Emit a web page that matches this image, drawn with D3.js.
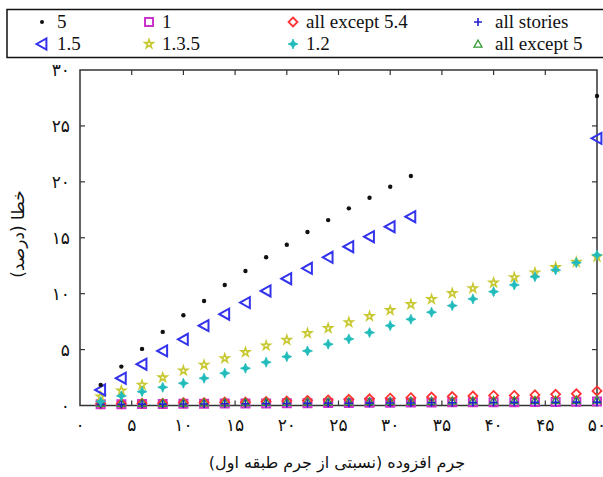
<!DOCTYPE html>
<html>
<head>
<meta charset="utf-8">
<script src="https://cdn.jsdelivr.net/npm/d3@7"></script>
<style>
  body { margin: 0; background: #fff; }
  svg { display: block; }
  .fa { font-family: "DejaVu Sans", sans-serif; }
  .leg { font-family: "Liberation Serif", "Times New Roman", serif; font-size: 19px; }
</style>
</head>
<body>
<svg id="chart" width="603" height="477"></svg>
<script>
// x positions (mass added, % of first storey)
const xAll = [2, 4, 6, 8, 10, 12, 14, 16, 18, 20, 22, 24, 26, 28, 30, 32, 34, 36, 38, 40, 42, 44, 46, 48, 50];
const xShort = [2, 4, 6, 8, 10, 12, 14, 16, 18, 20, 22, 24, 26, 28, 30, 32, 50];

// error (%) per damage scenario
const s5 = [1.84, 3.48, 5.06, 6.58, 8.07, 9.35, 10.78, 12.03, 13.25, 14.38, 15.51, 16.58, 17.63, 18.58, 19.56, 20.52, 27.67];
const s15 = [1.39, 2.44, 3.69, 4.88, 5.92, 7.14, 8.16, 9.2, 10.24, 11.34, 12.27, 13.25, 14.2, 15.09, 15.99, 16.88, 23.89];
const s135 = [0.8, 1.33, 1.84, 2.5, 3.12, 3.63, 4.22, 4.76, 5.35, 5.86, 6.46, 6.91, 7.44, 7.98, 8.52, 9.05, 9.5, 10.04, 10.48, 10.98, 11.46, 11.88, 12.36, 12.83, 13.3];
const s12 = [0.35, 0.86, 1.24, 1.63, 1.99, 2.44, 2.89, 3.33, 3.87, 4.37, 4.88, 5.48, 5.95, 6.52, 7.14, 7.71, 8.34, 8.93, 9.53, 10.18, 10.78, 11.52, 12.12, 12.77, 13.46];
const sEx54 = [0.15, 0.15, 0.2, 0.2, 0.25, 0.25, 0.3, 0.3, 0.35, 0.4, 0.45, 0.5, 0.55, 0.6, 0.65, 0.7, 0.75, 0.8, 0.85, 0.9, 0.9, 0.95, 1.0, 1.05, 1.3];
const s1 = [0.12, 0.12, 0.13, 0.14, 0.15, 0.15, 0.17, 0.18, 0.19, 0.2, 0.2, 0.22, 0.23, 0.24, 0.25, 0.26, 0.27, 0.28, 0.28, 0.3, 0.3, 0.31, 0.32, 0.33, 0.35];
const sEx5 = [0.2, 0.2, 0.22, 0.22, 0.24, 0.25, 0.26, 0.28, 0.3, 0.3, 0.32, 0.34, 0.35, 0.36, 0.38, 0.4, 0.4, 0.42, 0.43, 0.44, 0.45, 0.46, 0.47, 0.48, 0.5];
const sAll = [0.1, 0.1, 0.12, 0.12, 0.13, 0.14, 0.15, 0.16, 0.17, 0.18, 0.19, 0.2, 0.2, 0.21, 0.22, 0.23, 0.24, 0.25, 0.26, 0.27, 0.28, 0.28, 0.29, 0.3, 0.3];

const xTicks = [0, 5, 10, 15, 20, 25, 30, 35, 40, 45, 50];
const yTicks = [0, 5, 10, 15, 20, 25, 30];

const svg = d3.select('#chart');
const x = d3.scaleLinear().domain([0, 50]).range([80, 597]);
const y = d3.scaleLinear().domain([0, 30]).range([405.5, 70]);

const faDigits = n => String(n).replace(/\d/g, c => '۰۱۲۳۴۵۶۷۸۹'[c]);

// custom marker paths (centered at 0,0)
const leftTri = r => `M${-r},0L${r * 0.8},${-r}L${r * 0.8},${r}Z`;
const upTri = r => `M0,${-r}L${r},${r * 0.8}L${-r},${r * 0.8}Z`;
const diamond = r => `M0,${-r}L${r},0L0,${r}L${-r},0Z`;
const square = r => `M${-r},${-r}H${r}V${r}H${-r}Z`;
const plus = r => `M${-r},0H${r}M0,${-r}V${r}`;
const spark = r => { const q = r * 0.3; return `M0,${-r}L${q},${-q}L${r},0L${q},${q}L0,${r}L${-q},${q}L${-r},0L${-q},${-q}Z`; };
const star = d3.symbol().type(d3.symbolStar).size(22);

const series = [
  { name: '1', xs: xAll, ys: s1, path: square(4), fill: 'none', stroke: '#cc33cc', sw: 2 },
  { name: 'all except 5.4', xs: xAll, ys: sEx54, path: diamond(4.5), fill: 'none', stroke: '#ff3333', sw: 1.8 },
  { name: 'all except 5', xs: xAll, ys: sEx5, path: upTri(4), fill: 'none', stroke: '#339933', sw: 1.3 },
  { name: 'all stories', xs: xAll, ys: sAll, path: plus(4), fill: 'none', stroke: '#2222cc', sw: 1.6 },
  { name: '1.3.5', xs: xAll, ys: s135, path: star(), fill: 'none', stroke: '#c8c832', sw: 1.6 },
  { name: '1.2', xs: xAll, ys: s12, path: spark(5), fill: '#22bbbb', stroke: '#22bbbb', sw: 0.8 },
  { name: '1.5', xs: xShort, ys: s15, path: leftTri(5.5), fill: 'none', stroke: '#3333ee', sw: 2 },
  { name: '5', xs: xShort, ys: s5, path: null, fill: '#111', stroke: 'none', sw: 0 }
];

// frame
svg.append('rect')
  .attr('x', x(0)).attr('y', y(30))
  .attr('width', x(50) - x(0)).attr('height', y(0) - y(30))
  .attr('fill', 'none').attr('stroke', '#333').attr('stroke-width', 1.5);

// inward ticks on all four sides
const tk = svg.append('g').attr('stroke', '#333').attr('stroke-width', 1.2);
xTicks.slice(1, -1).forEach(t => {
  tk.append('line').attr('x1', x(t)).attr('x2', x(t)).attr('y1', y(0)).attr('y2', y(0) - 5);
  tk.append('line').attr('x1', x(t)).attr('x2', x(t)).attr('y1', y(30)).attr('y2', y(30) + 5);
});
yTicks.slice(1, -1).forEach(t => {
  tk.append('line').attr('x1', x(0)).attr('x2', x(0) + 5).attr('y1', y(t)).attr('y2', y(t));
  tk.append('line').attr('x1', x(50)).attr('x2', x(50) - 5).attr('y1', y(t)).attr('y2', y(t));
});

// tick labels
svg.append('g').selectAll('text').data(xTicks).join('text')
  .attr('class', 'fa')
  .attr('x', d => x(d)).attr('y', 431)
  .attr('text-anchor', 'middle').attr('font-size', 17).attr('fill', '#111')
  .text(d => faDigits(d));
svg.append('g').selectAll('text').data(yTicks).join('text')
  .attr('class', 'fa')
  .attr('x', 70).attr('y', d => y(d) + 6)
  .attr('text-anchor', 'end').attr('font-size', 17).attr('fill', '#111')
  .text(d => faDigits(d));

// axis titles
svg.append('text').attr('class', 'fa')
  .attr('x', 337).attr('y', 468).attr('text-anchor', 'middle')
  .attr('font-size', 16).attr('fill', '#111')
  .attr('direction', 'rtl')
  .text('جرم افزوده (نسبتی از جرم طبقه اول)');
svg.append('text').attr('class', 'fa')
  .attr('transform', 'translate(24,234) rotate(-90)')
  .attr('text-anchor', 'middle').attr('font-size', 17).attr('fill', '#111')
  .attr('direction', 'rtl')
  .text('خطا (درصد)');

// data points
series.forEach(s => {
  const g = svg.append('g');
  const pts = s.xs.map((xv, i) => [xv, s.ys[i]]);
  if (s.path) {
    g.selectAll('path').data(pts).join('path')
      .attr('transform', d => `translate(${x(d[0])},${y(d[1])})`)
      .attr('d', s.path)
      .attr('fill', s.fill).attr('stroke', s.stroke).attr('stroke-width', s.sw);
  } else {
    g.selectAll('circle').data(pts).join('circle')
      .attr('cx', d => x(d[0])).attr('cy', d => y(d[1]))
      .attr('r', 2.2).attr('fill', s.fill);
  }
});

// legend
const legend = svg.append('g');
legend.append('rect')
  .attr('x', 7).attr('y', 9.5).attr('width', 600).attr('height', 48)
  .attr('fill', '#fff').attr('stroke', '#111').attr('stroke-width', 1.5);

const legItems = [
  { key: '5', mx: 42, tx: 57, row: 0 },
  { key: '1', mx: 149, tx: 162, row: 0 },
  { key: 'all except 5.4', mx: 293, tx: 306, row: 0 },
  { key: 'all stories', mx: 478, tx: 495, row: 0 },
  { key: '1.5', mx: 42, tx: 57, row: 1 },
  { key: '1.3.5', mx: 149, tx: 162, row: 1 },
  { key: '1.2', mx: 293, tx: 306, row: 1 },
  { key: 'all except 5', mx: 478, tx: 495, row: 1 }
];
legItems.forEach(it => {
  const s = series.find(d => d.name === it.key);
  const cy = it.row === 0 ? 22 : 44;
  if (s.path) {
    legend.append('path')
      .attr('transform', `translate(${it.mx},${cy})`)
      .attr('d', s.path)
      .attr('fill', s.fill).attr('stroke', s.stroke).attr('stroke-width', s.sw);
  } else {
    legend.append('circle').attr('cx', it.mx).attr('cy', cy).attr('r', 2).attr('fill', s.fill);
  }
  legend.append('text').attr('class', 'leg')
    .attr('x', it.tx).attr('y', cy + 6).attr('fill', '#111')
    .text(it.key);
});
</script>
</body>
</html>
